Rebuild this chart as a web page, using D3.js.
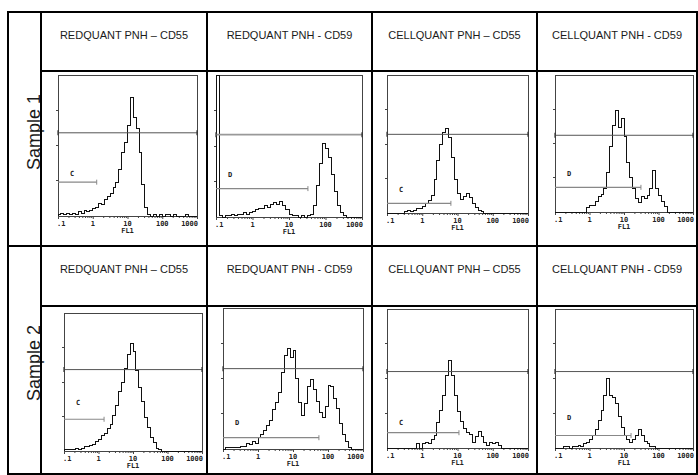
<!DOCTYPE html>
<html>
<head>
<meta charset="utf-8">
<title>PNH histograms</title>
<script src="https://d3js.org/d3.v7.min.js"></script>
<style>
  body { margin: 0; background: #fff; }
  .hdr { font-family: "Liberation Sans", Arial, sans-serif; font-size: 11px; fill: #1a1a1a; }
  .smp { font-family: "Liberation Sans", Arial, sans-serif; font-size: 18px; fill: #1a1a1a; }
  .tk  { font-family: "DejaVu Sans Mono", monospace; font-size: 7px; font-weight: bold; fill: #222; }
</style>
</head>
<body>
<div id="chart"></div>
<script>
// column headings and sample names
const headers = ["REDQUANT PNH \u2013 CD55", "REDQUANT PNH - CD59", "CELLQUANT PNH \u2013 CD55", "CELLQUANT PNH - CD59"];
const samples = ["Sample 1", "Sample 2"];
const tickLabels = [".1", "1", "10", "100", "1000"];
const tickValues = [0.1, 1, 10, 100, 1000];

// histogram counts, 12 channels per decade from 0.1 to 1000 (% of plot height)
const s1RedCD55 = [1,2,1,2,1,2,1,3,2,4,3,4,5,6,9,8,12,14,16,20,24,33,45,52,64,84,70,62,45,22,6,1,0,1,0,1,0,1,1,0,1,0,0,0,1,0,0,0];
const s1RedCD59 = [100,1,0,1,1,2,1,2,2,3,2,3,4,5,6,6,8,7,9,10,9,11,8,5,2,1,1,0,1,0,1,2,8,22,38,52,48,42,30,18,8,3,1,0,0,0,0,0];
const s1CellCD55 = [0,0,0,0,0,0,1,2,1,2,3,3,5,7,9,13,24,38,50,58,61,55,40,24,14,10,12,14,11,7,4,2,1,0,0,0,0,0,0,0,0,0,0,0,0,0,0,0];
const s1CellCD59 = [0,0,0,0,0,0,0,0,0,0,0,3,5,5,8,11,13,17,29,48,63,74,62,68,55,36,25,17,10,7,11,10,12,17,30,17,12,8,4,0,0,0,0,0,0,0,0,0];
const s2RedCD55 = [1,1,1,1,2,1,2,3,3,4,5,7,8,11,13,16,19,26,33,43,50,60,70,78,72,58,46,36,24,17,10,6,2,1,0,0,0,0,0,0,0,0,0,0,0,0,0,0];
const s2RedCD59 = [0,1,1,1,1,1,2,2,4,3,5,4,8,10,13,17,20,28,33,40,54,66,71,65,70,50,33,24,32,44,49,42,34,26,22,30,45,44,36,29,18,10,5,1,0,0,0,0];
const s2CellCD55 = [0,0,0,0,0,0,0,0,0,0,3,0,3,4,3,6,9,18,27,38,52,63,52,38,26,19,14,11,10,4,8,12,8,4,2,4,3,4,2,0,0,0,0,0,0,0,0,0];
const s2CellCD59 = [0,0,0,1,1,0,1,1,2,1,3,4,6,9,13,20,27,38,50,38,36,32,23,15,9,6,4,6,9,13,9,5,3,1,1,0,0,0,0,0,0,0,0,0,0,0,0,0];

// markers: full-width line level, gate level, gate end (FL1), gate name, label level
const markerLevel = [59, 58, 57, 56, 59, 57, 55, 55];
const gateLevel = [24, 20, 7, 18, 23, 8, 11, 9];
const gateEnd = [1.3, 33, 6.5, 31, 1.45, 55, 11, 16];
const gateName = ["C", "D", "C", "D", "C", "D", "C", "D"];
const gateLabelLevel = [30, 30, 17, 28, 35, 19, 18, 22];

const histograms = [s1RedCD55, s1RedCD59, s1CellCD55, s1CellCD59, s2RedCD55, s2RedCD59, s2CellCD55, s2CellCD59];

// plot frames [left, top, right, bottom]
const frames = [
  [58, 75, 197, 216], [216, 75, 362, 217], [387, 75, 528, 213], [555, 75, 693, 212],
  [64, 313, 202, 451], [223, 308, 363, 449], [387, 309, 528, 448], [555, 309, 693, 448]
];

const W = 698, H = 475;
const colX = [41, 207, 372, 537, 697];
const rowY = [12, 71, 246, 306, 474];
const leftX = 8;

let svg = d3.select("#chart").append("svg")
    .attr("width", W).attr("height", H);

// sample labels (drawn before the grid so the border sits on top)
samples.forEach((s, r) => {
  let cy = (rowY[r * 2] + rowY[r * 2 + 2]) / 2 + 3;
  svg.append("text")
      .attr("class", "smp")
      .attr("transform", "translate(40," + cy + ") rotate(-90)")
      .attr("text-anchor", "middle")
      .text(s);
});

// headers
[0, 1].forEach(r => {
  headers.forEach((h, c) => {
    svg.append("text")
        .attr("class", "hdr")
        .attr("x", (colX[c] + colX[c + 1]) / 2)
        .attr("y", (rowY[r * 2] + rowY[r * 2 + 1]) / 2 - 3)
        .attr("text-anchor", "middle")
        .text(h);
  });
});

// histogram panels
histograms.forEach((counts, k) => {
  let f = frames[k];
  let g = svg.append("g");

  let x = d3.scaleLog().domain([0.1, 1000]).range([f[0], f[2]]);
  let y = d3.scaleLinear().domain([0, 100]).range([f[3], f[1]]);

  // frame
  g.append("rect")
      .attr("x", f[0]).attr("y", f[1])
      .attr("width", f[2] - f[0]).attr("height", f[3] - f[1])
      .attr("fill", "none").attr("stroke", "#444").attr("stroke-width", 1)
      .attr("shape-rendering", "crispEdges");

  // left ticks
  g.selectAll(".yt").data([25, 50, 75]).enter().append("line")
      .attr("x1", f[0] - 2).attr("x2", f[0])
      .attr("y1", d => y(d)).attr("y2", d => y(d))
      .attr("stroke", "#444").attr("shape-rendering", "crispEdges");

  // bottom axis: decades and minor log ticks
  let xAxis = d3.axisBottom(x)
      .tickValues(d3.range(-1, 3).flatMap(e => d3.range(1, 10).map(m => m * Math.pow(10, e))).concat([1000]))
      .tickSize(2)
      .tickFormat("");
  let ax = g.append("g")
      .attr("transform", "translate(0," + f[3] + ")")
      .call(xAxis);
  ax.select(".domain").attr("stroke", "#444");
  ax.selectAll(".tick line")
      .attr("stroke", "#444")
      .attr("y2", d => tickValues.includes(d) ? 3 : 2);

  tickLabels.forEach((t, i) => {
    g.append("text")
        .attr("class", "tk")
        .attr("x", i === 0 ? f[0] - 1 : (i === 4 ? f[2] + 1 : x(tickValues[i])))
        .attr("y", f[3] + 9.5)
        .attr("text-anchor", i === 0 ? "start" : (i === 4 ? "end" : "middle"))
        .text(t);
  });
  g.append("text")
      .attr("class", "tk")
      .attr("x", x(10))
      .attr("y", f[3] + 17)
      .attr("text-anchor", "middle")
      .text("FL1");

  // histogram as a stepped outline
  let pts = counts.map((v, i) => [Math.pow(10, -1 + i / 12), v]);
  pts.unshift([0.1, 0]);
  pts.push([1000, counts[counts.length - 1]]);
  let line = d3.line()
      .x(d => x(d[0]))
      .y(d => y(d[1]))
      .curve(d3.curveStepAfter);
  g.append("path")
      .attr("d", line(pts))
      .attr("fill", "none")
      .attr("stroke", "#111")
      .attr("stroke-width", 1)
      .attr("shape-rendering", "crispEdges");

  // full width marker
  let my = y(markerLevel[k]);
  let mcol = k === 1 ? "#999" : "#555";
  let mw = k === 1 ? 1.6 : 1;
  g.append("line")
      .attr("x1", f[0]).attr("x2", f[2]).attr("y1", my).attr("y2", my)
      .attr("stroke", mcol).attr("stroke-width", mw);
  [f[0], f[2]].forEach(xx => {
    g.append("line")
        .attr("x1", xx).attr("x2", xx).attr("y1", my - 2.5).attr("y2", my + 2.5)
        .attr("stroke", "#333").attr("stroke-width", 1.2);
  });

  // gate bracket
  let gy = y(gateLevel[k]);
  let gx = x(gateEnd[k]);
  g.append("line")
      .attr("x1", f[0]).attr("x2", gx).attr("y1", gy).attr("y2", gy)
      .attr("stroke", "#888").attr("stroke-width", 1.2);
  g.append("line")
      .attr("x1", gx).attr("x2", gx).attr("y1", gy - 2.5).attr("y2", gy + 2.5)
      .attr("stroke", "#888").attr("stroke-width", 1);
  g.append("text")
      .attr("class", "tk")
      .attr("x", f[0] + 14)
      .attr("y", y(gateLabelLevel[k]) + 2.5)
      .attr("text-anchor", "middle")
      .text(gateName[k]);
});

// table grid
let grid = svg.append("g")
    .attr("stroke", "#000").attr("stroke-width", 2).attr("fill", "none");
grid.append("rect")
    .attr("x", leftX).attr("y", rowY[0])
    .attr("width", colX[4] - leftX).attr("height", rowY[4] - rowY[0]);
colX.slice(0, 4).forEach(cx => {
  grid.append("line").attr("x1", cx).attr("x2", cx).attr("y1", rowY[0]).attr("y2", rowY[4]);
});
grid.append("line").attr("x1", colX[0]).attr("x2", colX[4]).attr("y1", rowY[1]).attr("y2", rowY[1]);
grid.append("line").attr("x1", leftX).attr("x2", colX[4]).attr("y1", rowY[2]).attr("y2", rowY[2]);
grid.append("line").attr("x1", colX[0]).attr("x2", colX[4]).attr("y1", rowY[3]).attr("y2", rowY[3]);
</script>
</body>
</html>
